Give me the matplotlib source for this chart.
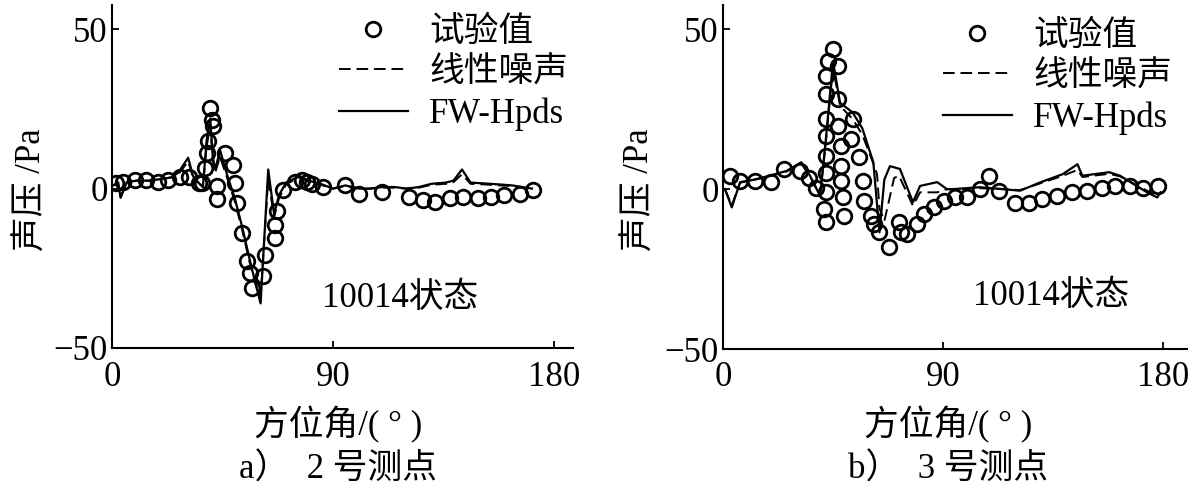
import numpy as np
import matplotlib.pyplot as plt
from matplotlib.lines import Line2D

plt.rcParams['font.family'] = ['Liberation Serif', 'Noto Sans CJK SC']
plt.rcParams['axes.unicode_minus'] = True

# ---- a) 2号测点 ----
a_test_x = [1.7, 4.5, 9.2, 14, 18.8, 22.8, 27.5, 31.5, 35.5, 36.5, 37.9, 38.5, 39.2, 39.9, 40.6, 41.3,
            42.6, 42.6, 46.0, 49.4, 50.1, 50.8, 52.8, 54.8, 56.2, 56.9, 61.6, 62.3, 66.4, 66.4, 67.0,
            69.7, 74.5, 77.2, 79.5, 81.5, 86, 95, 100.5, 110, 121, 126.5, 131.5, 137.5, 143, 149,
            154.5, 159.5, 166, 171.5]
a_test_y = [1.8, 2.1, 2.6, 2.6, 2.1, 2.6, 3.6, 3.6, 1.8, 1.8, 6.5, 11.2, 14.8, 25.3, 21.6, 19.5,
            0.7, -3.4, 11.2, 7.5, 1.8, -4.5, -13.9, -22.8, -26.4, -31.1, -27.5, -20.7, -15.5, -11.3, -7.1,
            -0.3, 2.1, 2.6, 2.2, 1.6, 0.5, 1.0, -1.6, -1.0, -2.6, -3.6, -4.2, -3.1, -2.6, -3.1,
            -2.6, -2.1, -1.6, -0.5]

a_fw_x = [0.5, 2.5, 3.5, 6, 10, 15, 20, 24, 27, 31, 33, 35, 37, 38.5, 40, 41, 42, 44, 47, 50,
          53, 56, 58.5, 60.5, 63.6, 66, 68, 71, 76.5, 80, 85, 90, 95, 101, 105, 110, 115, 120,
          125, 130, 136, 139, 142.5, 146, 152, 158, 163, 167, 171]
a_fw_y = [1, 2, -2.9, 2, 2.5, 2.5, 3, 3.5, 5, 9.7, 3.9, 2, 0.5, 15, 22, 10, 6, 12, 4, -3,
          -12, -22, -30, -36, 6, -8, -2, 2, 3.9, 2.5, 1.5, 0, 1, 0, 0, 0.5, 0.5, 0,
          0.5, 1.5, 1.9, 2.5, 6, 1.9, 1.6, 1.3, 1, 0.5, 0]

a_lin_x = [0.5, 2.5, 3.5, 6, 10, 15, 20, 24, 27, 31, 33, 35, 37, 38.5, 40, 41, 42, 44, 47, 50,
           53, 56, 58.5, 60.5, 63.6, 66, 68, 71, 76.5, 80, 85, 90, 95, 101, 105, 110, 115, 120,
           125, 130, 136, 139, 142.5, 146, 152, 158, 163, 167, 171]
a_lin_y = [1, 1.5, -2.5, 2, 2.5, 2.5, 3, 3.5, 4.5, 8.5, 3.5, 2, 0.5, 13, 20, 9, 5, 10, 3, -4,
           -13, -23, -30, -34, 3, -9, -3, 1.5, 3.5, 2.2, 1.2, 0, 0.8, 0, 0, 0.3, 0.3, 0,
           0.3, 1.2, 1.5, 2, 4.5, 1.5, 1.3, 1.0, 0.8, 0.3, 0]

# ---- b) 3号测点 ----
b_test_x = [2.7, 6.8, 12.9, 19.7, 25.1, 31.3, 35.3, 38, 41.4, 42.1, 42.1, 42.1, 42.1, 42.1, 42.1,
            42.1, 42.1, 42.8, 44.8, 46.9, 46.9, 46.9, 48.2, 48.2, 48.2, 48.9, 49.6, 53, 52.3, 55.7,
            57.1, 57.7, 60.5, 61.8, 63.9, 67.9, 72, 72.7, 75.4, 79.5, 82.2, 86.3, 90.4, 95.1, 99.9,
            105.3, 108.7, 112.8, 119.6, 125, 130.4, 136.5, 142.7, 148.8, 154.9, 160.3, 166.4,
            171.9, 178]
b_test_y = [4.2, 2.6, 2.6, 2.1, 6.2, 5.7, 3.6, 0.5, -6.2, -10.4, -1.0, 5.2, 10.4, 16.7, 21.9,
            29.7, 35.4, 40.1, 43.8, 38.5, 28.1, 19.8, 13.5, 7.3, 2.6, -2.6, -8.3, 21.9, 15.6, 9.9,
            2.6, -3.6, -8.3, -10.9, -13.5, -18.2, -10.4, -13.5, -14.1, -10.9, -7.8, -5.7, -3.6, -2.6, -2.6,
            0, 4.2, -0.5, -4.2, -4.2, -3.1, -2.1, -1.0, -0.5, 0.5, 1.0, 1.0,
            0.5, 1.0]

b_fw_x = [0.8, 3.6, 7, 13, 19, 26, 32, 35.6, 39.7, 42, 45, 47.9, 53, 57, 61.5, 64, 66, 68.3, 72.4,
          77.7, 80.6, 87.6, 91.6, 94, 105, 114.6, 121.5, 129.7, 139, 145, 147, 158, 162.4,
          173.5, 177.6, 179]
b_fw_y = [0, -5.7, 2.2, 3, 4.2, 5.7, 8.4, 4.2, -2.1, 15, 40, 27, 24, 19, 8.4, -13.5, 3, 7.2, 6.3,
          -4.1, 1, 2.2, 0, 0, 0.6, 0, -0.5, 2.1, 4.7, 7.8, 4.2, 5.3, 4.2,
          -1, -2.6, -1]

b_lin_x = [0.8, 3.6, 7, 13, 19, 26, 32, 35.6, 39.7, 42, 45, 47.9, 53, 57, 61.5, 63, 64, 66, 70,
           72, 77.7, 80.6, 87.6, 91.6, 94, 105, 114.6, 121.5, 129.7, 139, 145, 147, 158, 162.4,
           173.5, 177.6, 179]
b_lin_y = [0, -5, 2, 3, 4, 5.5, 8, 4, -2, 14, 38, 26, 22, 17, 8, 4.7, -6, -10, 3.5,
           4.2, -5.2, -1, -1, 0, 0, 0.3, 0, -0.3, 1.8, 4.2, 6, 3.8, 4.8, 4,
           -0.5, -2, -1]


fig = plt.figure(figsize=(12, 4.99), dpi=100)
ax1 = fig.add_axes([112 / 1200, 1 - 348 / 499, (573 - 112) / 1200, (348 - 5) / 499])
ax2 = fig.add_axes([723 / 1200, 1 - 349 / 499, (1187 - 723) / 1200, (349 - 5) / 499])


def draw_panel(ax, tx, ty, fx, fy, lx, ly, xmax, leg_anchor, state_xy):
    ax.plot(lx, ly, color='k', lw=1.4, ls=(0, (6, 3)))
    ax.plot(fx, fy, color='k', lw=1.6)
    ax.plot(tx, ty, 'o', mfc='none', mec='k', ms=10.5, mew=2.0)
    ax.set_xlim(0, xmax)
    ax.set_ylim(-50, 57.6)
    ax.set_xticks([0, 90, 180])
    ax.set_yticks([-50, 0, 50])
    ax.spines['top'].set_visible(False)
    ax.spines['right'].set_visible(False)
    ax.spines['left'].set_linewidth(1.5)
    ax.spines['bottom'].set_linewidth(1.5)
    ax.tick_params(direction='in', length=5, width=1.3, labelsize=25)
    ax.tick_params(axis='y', pad=3)
    ax.tick_params(axis='x', pad=9)
    handles = [
        Line2D([], [], ls='none', marker='o', mfc='none', mec='k', ms=10.5, mew=2.0),
        Line2D([], [], color='k', lw=1.4, ls=(0, (6, 3))),
        Line2D([], [], color='k', lw=1.6),
    ]
    ax.legend(handles, ['试验值', '线性噪声', 'FW-Hpds'], loc='upper right',
              bbox_to_anchor=leg_anchor, bbox_transform=fig.transFigure,
              frameon=False, fontsize=25, handlelength=2.0, handletextpad=0.6,
              labelspacing=0.22, borderpad=0, borderaxespad=0)
    fig.text(state_xy[0], state_xy[1], '10014状态', fontsize=25, ha='left', va='center')


draw_panel(ax1, a_test_x, a_test_y, a_fw_x, a_fw_y, a_lin_x, a_lin_y, 187.7,
           (568 / 1200, 1 - 16 / 499), (322 / 1200, 1 - 298 / 499))
draw_panel(ax2, b_test_x, b_test_y, b_fw_x, b_fw_y, b_lin_x, b_lin_y, 189.8,
           (1172 / 1200, 1 - 20 / 499), (973 / 1200, 1 - 296 / 499))

fig.text(32 / 1200, 1 - 190 / 499, '声压 /Pa', rotation=90, fontsize=25, ha='center', va='center')
fig.text(640 / 1200, 1 - 190 / 499, '声压 /Pa', rotation=90, fontsize=25, ha='center', va='center')
fig.text(338 / 1200, 1 - 425 / 499, '方位角/( ° )', fontsize=25, ha='center', va='center')
fig.text(948 / 1200, 1 - 425 / 499, '方位角/( ° )', fontsize=25, ha='center', va='center')
fig.text(338 / 1200, 1 - 470 / 499, 'a）  2 号测点', fontsize=25, ha='center', va='center')
fig.text(948 / 1200, 1 - 470 / 499, 'b）  3 号测点', fontsize=25, ha='center', va='center')

fig.savefig('out.png', dpi=100)
